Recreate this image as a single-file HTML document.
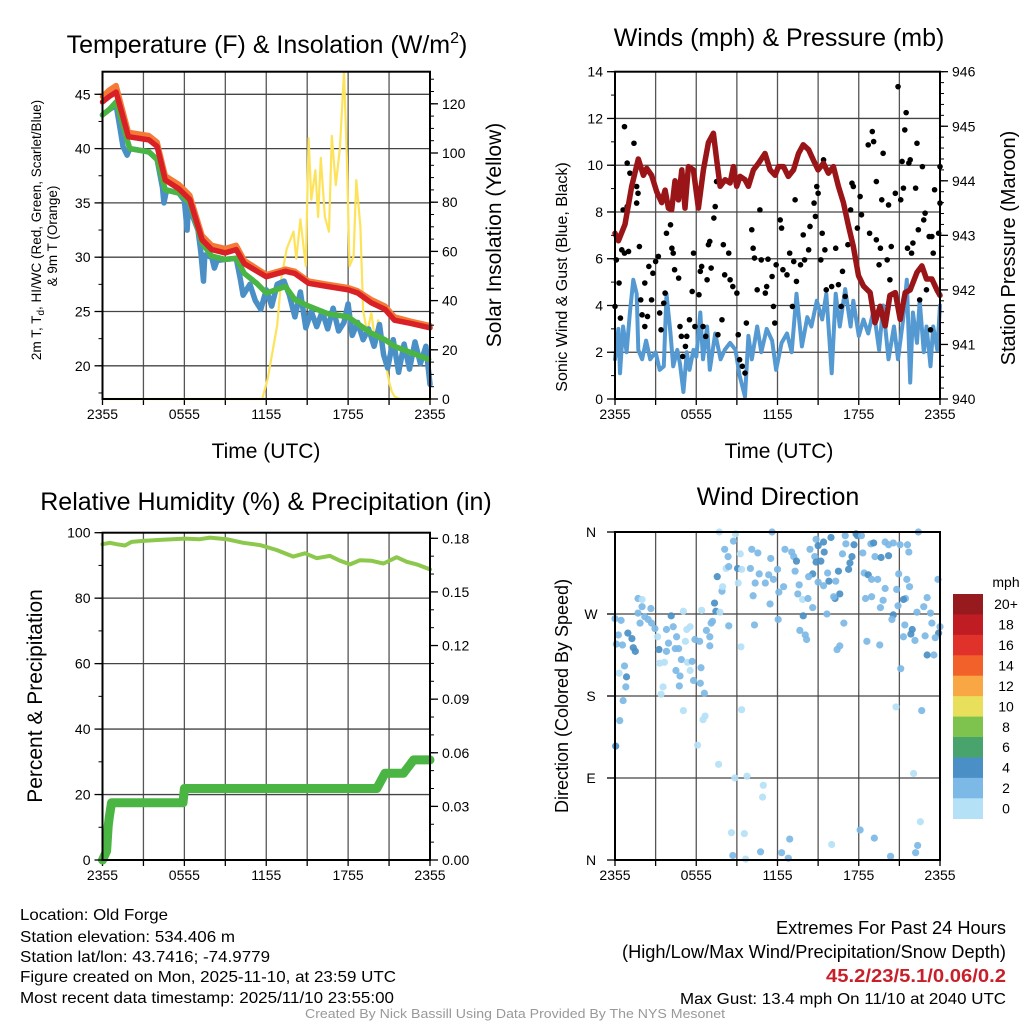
<!DOCTYPE html>
<html><head><meta charset="utf-8"><style>
html,body{margin:0;padding:0;background:#fff;}
svg{display:block;font-family:"Liberation Sans",Arial,sans-serif;}
</style></head><body>
<svg id="chart" xmlns="http://www.w3.org/2000/svg" width="1024" height="1024" viewBox="0 0 1024 1024">
<rect x="0" y="0" width="1024" height="1024" fill="#fff"/>
<g id="layer"></g>
<g font-size="25" text-anchor="middle" fill="#000">
<text x="267" y="53">Temperature (F) &amp; Insolation (W/m<tspan font-size="16" dy="-10">2</tspan><tspan dy="10">)</tspan></text>
<text x="779" y="46">Winds (mph) &amp; Pressure (mb)</text>
<text x="266" y="510">Relative Humidity (%) &amp; Precipitation (in)</text>
<text x="778" y="505">Wind Direction</text>
</g>
<g fill="#000" text-anchor="middle">
<text x="266" y="458" font-size="21">Time (UTC)</text>
<text x="779" y="458" font-size="21">Time (UTC)</text>
<text transform="translate(41,230) rotate(-90)" font-size="13.5">2m T, T<tspan font-size="10" dy="3">d</tspan><tspan dy="-3">, HI/WC (Red, Green, Scarlet/Blue)</tspan></text>
<text transform="translate(57,236) rotate(-90)" font-size="13.5">&amp; 9m T (Orange)</text>
<text transform="translate(501,235) rotate(-90)" font-size="21">Solar Insolation (Yellow)</text>
<text transform="translate(567,277) rotate(-90)" font-size="16">Sonic Wind &amp; Gust (Blue, Black)</text>
<text transform="translate(1015,248) rotate(-90)" font-size="20">Station Pressure (Maroon)</text>
<text transform="translate(42,696) rotate(-90)" font-size="21">Percent &amp; Precipitation</text>
<text transform="translate(568,696) rotate(-90)" font-size="18">Direction (Colored By Speed)</text>
</g>
<g font-size="16" fill="#000" lengthAdjust="spacingAndGlyphs">
<text x="20" y="920" textLength="148" lengthAdjust="spacingAndGlyphs">Location: Old Forge</text>
<text x="20" y="942" textLength="215" lengthAdjust="spacingAndGlyphs">Station elevation: 534.406 m</text>
<text x="20" y="962" textLength="250" lengthAdjust="spacingAndGlyphs">Station lat/lon: 43.7416; -74.9779</text>
<text x="20" y="982" textLength="376" lengthAdjust="spacingAndGlyphs">Figure created on Mon, 2025-11-10, at 23:59 UTC</text>
<text x="20" y="1003" textLength="374" lengthAdjust="spacingAndGlyphs">Most recent data timestamp: 2025/11/10 23:55:00</text>
</g>
<g text-anchor="end" fill="#000">
<text x="1006" y="934" font-size="18" textLength="230" lengthAdjust="spacingAndGlyphs">Extremes For Past 24 Hours</text>
<text x="1006" y="958" font-size="18" textLength="384" lengthAdjust="spacingAndGlyphs">(High/Low/Max Wind/Precipitation/Snow Depth)</text>
<text x="1006" y="982" font-size="18" font-weight="bold" fill="#c8202a" textLength="180" lengthAdjust="spacingAndGlyphs">45.2/23/5.1/0.06/0.2</text>
<text x="1006" y="1004" font-size="16" textLength="326" lengthAdjust="spacingAndGlyphs">Max Gust: 13.4 mph On 11/10 at 2040 UTC</text>
</g>
<text x="305" y="1018" font-size="13" fill="#999" textLength="420" lengthAdjust="spacingAndGlyphs">Created By Nick Bassill Using Data Provided By The NYS Mesonet</text>
</svg>
<script>
// ---------- data ----------
const timeTickLabels = ["2355","0555","1155","1755","2355"];
const tempTicks = [20,25,30,35,40,45];
const solarTicks = [0,20,40,60,80,100,120];
const windTicks = [0,2,4,6,8,10,12,14];
const pressTicks = [940,941,942,943,944,945,946];
const rhTicks = [0,20,40,60,80,100];
const precipTicks = ["0.00","0.03","0.06","0.09","0.12","0.15","0.18"];
const dirLabels = ["N","E","S","W","N"];
const speedBins = ["0","2","4","6","8","10","12","14","16","18","20+"];
const speedColors = ["#b5e1f7","#7cb9e6","#4a90c6","#48a46c","#7ec34d","#e8e05a","#f9a744","#f26129","#e0322a","#bf1d23","#961a1e"];

const redTimes = [0,0.5,1,1.9,3.4,4,4.6,5.6,6.4,7.3,8,9,9.8,10.4,12,13.4,14.1,15.1,16.5,18,18.7,19.7,20.7,21.4,22.6,24];
const redTemps = [44.3,44.8,45.2,41.1,40.8,40.2,37.1,36.3,35.3,31.6,30.7,30.4,30.7,29.4,28.2,28.7,28.5,27.6,27.3,27.0,26.7,25.8,25.2,24.2,23.9,23.5];
const orangeTemps = [44.8,45.4,45.8,41.5,41.2,40.6,37.5,36.7,35.7,32.0,31.1,30.8,31.1,29.7,28.4,28.9,28.7,27.8,27.5,27.2,26.9,26.1,25.5,24.5,24.1,23.7];
const greenTimes = [0,0.5,1,2,3.4,4,4.6,5.6,6.4,7.3,8,9,9.8,10.4,11.3,12,12.7,13.4,14.1,15.1,16.5,18,19.7,20.7,21.4,23.9];
const greenTemps = [43.1,43.6,44.3,40.0,39.7,39.0,36.2,35.9,35.0,31.3,30.1,29.8,29.9,28.5,27.6,26.7,27.0,27.3,26.1,25.5,24.8,24.5,23.0,22.4,21.8,20.6];
const blueTimes = [0,0.5,1,1.2,1.5,1.8,2,3.4,4,4.4,4.5,4.7,5.6,6.0,6.2,6.3,7.0,7.2,7.4,7.5,8,8.2,8.4,9,9.8,10.1,10.3,10.8,11.2,11.6,12,12.4,12.8,13.3,13.7,14.1,14.5,14.9,15.3,15.7,16.1,16.5,16.9,17.3,17.7,18.0,18.3,18.7,19.1,19.5,19.9,20.3,20.6,20.9,21.3,21.7,22.1,22.5,22.9,23.3,23.7,24];
const blueTemps = [43.1,43.6,44.0,42.5,40.2,39.4,40.0,39.7,39.0,36.4,35.0,36.2,35.9,35.2,32.5,34.8,32.5,30.5,27.8,30.2,30.0,29.0,29.7,29.8,29.9,28.0,26.5,27.5,26.0,25.2,27.0,25.5,27.5,27.8,26.5,24.5,26.8,23.5,25.0,23.6,25.0,23.4,25.3,23.2,24.0,25.7,22.8,24.0,22.4,23.4,21.8,23.8,21.0,19.8,22.4,19.4,22.0,19.7,22.2,20.2,21.8,18.3];
const solarTimes = [0,11.7,12.1,12.8,13.1,13.5,14.0,14.2,14.5,14.9,15.1,15.3,15.6,15.8,16.0,16.3,16.6,16.8,17.1,17.4,17.7,17.9,18.1,18.4,18.6,18.9,19.1,19.4,19.7,20.0,20.2,20.5,20.7,21.0,21.2,21.4,21.8,24];
const solarValues = [0,0,8,30,49,61,68,57,73,54,106,81,93,74,98,74,68,107,87,102,133,99,54,58,89,70,36,27,35,23,32,19,16,7,3,1,0,0];

const windTimes = [0,0.25,0.37,0.6,0.86,1.1,1.35,1.6,1.72,2.0,2.3,2.6,3.0,3.3,3.6,3.8,4.1,4.3,4.6,4.8,5.05,5.3,5.5,5.8,6.0,6.3,6.5,6.8,7.0,7.4,7.8,8.1,8.5,8.9,9.2,9.6,9.85,10.1,10.5,10.8,11.2,11.6,11.9,12.3,12.7,13.05,13.4,13.8,14.2,14.5,14.9,15.3,15.6,16.0,16.3,16.6,17.0,17.4,17.6,18.0,18.35,18.7,19.1,19.5,19.8,20.2,20.6,20.9,21.3,21.55,21.8,22.0,22.3,22.5,22.8,23.0,23.3,23.5,23.8,24];
const windSpeeds = [1.7,3.0,1.1,3.1,2.0,3.7,5.1,4.5,2.1,1.7,2.5,1.7,2.0,1.25,1.4,4.5,2.8,1.4,2.1,1.5,0.3,2.0,1.25,2.1,1.8,3.7,1.7,3.1,1.25,2.8,1.7,2.1,2.4,2.1,1.0,0.1,2.7,1.7,3.1,2.0,3.0,2.5,1.25,2.4,2.8,2.0,4.5,2.25,3.5,3.1,4.2,3.4,4.5,1.1,4.5,3.1,4.7,3.1,4.2,2.7,3.4,2.8,3.8,2.1,4.0,1.7,3.1,1.7,3.5,5.1,0.7,3.7,2.4,4.2,2.0,3.1,1.4,3.1,2.1,4.0];
const gustTimes = [0,0.1,0.3,0.4,0.5,0.6,0.7,0.9,1.0,0.7,0.9,1.1,1.4,1.6,1.7,1.6,1.8,1.9,2.0,2.2,2.2,2.4,2.5,2.7,2.8,3.0,3.2,3.3,3.4,3.6,3.7,3.8,4.1,4.2,4.3,4.4,4.7,4.8,4.9,5.0,5.2,5.3,5.5,5.7,5.8,5.9,6.2,6.3,6.4,6.5,6.7,6.8,6.9,7.0,7.1,7.3,7.4,7.5,7.6,7.9,8.0,8.1,8.4,8.5,8.7,9.0,9.1,9.2,9.4,9.6,9.7,10.1,10.2,10.3,10.5,10.7,10.8,11.1,11.2,11.3,11.6,11.7,11.8,11.9,12.2,12.3,12.4,12.7,12.9,13.1,13.2,13.3,13.4,13.7,13.9,14.0,14.3,14.4,14.7,14.8,14.9,15.0,15.2,15.3,15.4,15.5,15.6,16.0,16.3,16.5,16.7,16.8,17.0,17.2,17.4,17.5,17.6,17.9,18.1,18.2,18.7,18.8,19.0,19.1,19.3,19.3,19.5,19.6,19.7,19.8,20.1,20.2,20.3,20.4,20.7,20.9,21.1,21.2,21.3,21.4,21.5,21.6,21.7,21.8,21.9,22.0,22.2,22.3,22.4,22.5,22.7,22.8,22.9,23.0,23.2,23.3,23.4,23.5,23.6,23.9,24.0,24.0];
const gustSpeeds = [3.96,5.95,4.96,3.46,6.38,8.09,6.24,8.23,6.31,11.65,10.09,9.66,10.94,9.09,8.8,8.38,6.52,4.24,3.6,3.1,4.96,3.53,5.67,4.24,5.38,5.88,6.1,3.68,2.96,4.1,4.53,7.09,7.45,6.45,6.24,5.53,5.17,3.1,2.68,1.82,2.25,2.68,3.39,4.6,6.24,3.1,4.46,5.46,5.67,3.1,2.68,5.1,6.6,6.74,5.6,7.74,8.23,9.3,2.75,3.39,6.6,5.31,6.24,5.1,4.81,4.53,2.75,1.68,1.4,1.11,3.25,7.24,6.45,6.03,4.67,8.09,5.95,4.53,4.81,5.98,5.24,3.96,3.25,5.74,7.66,7.31,5.53,5.31,6.24,3.96,5.88,8.52,5.03,5.74,7.02,5.95,6.38,7.38,8.38,7.81,9.09,8.8,5.95,7.09,10.23,6.38,4.67,4.81,6.45,4.89,3.96,5.46,4.39,6.6,8.09,9.23,9.09,7.31,8.66,7.88,10.87,7.09,11.44,11.01,9.3,6.81,5.74,6.45,8.52,10.51,5.95,8.3,5.1,6.52,8.8,13.36,8.52,10.16,9.02,11.51,12.25,6.45,10.09,10.23,6.24,6.67,9.02,10.94,7.24,4.24,9.94,7.66,7.95,4.67,6.95,2.96,6.95,6.24,8.95,7.09,9.94,8.38];
const pressTimes = [0,0.25,0.74,1.23,1.72,2.1,2.34,2.7,3.08,3.45,3.7,3.94,4.19,4.43,4.68,4.93,5.17,5.42,5.79,6.16,6.53,6.9,7.27,7.51,7.76,8.13,8.5,8.74,8.99,9.24,9.6,9.85,10.22,10.6,11.08,11.45,11.82,12.07,12.44,12.8,13.18,13.55,13.9,14.3,14.65,15.0,15.4,15.76,16.13,16.5,16.87,17.24,17.6,17.98,18.35,18.84,19.2,19.58,19.95,20.3,20.7,21.06,21.43,21.8,22.3,22.66,23.0,23.4,23.77,24];
const pressValues = [943.04,942.9,943.2,943.9,944.4,944.1,944.23,944.1,943.8,943.6,943.83,943.5,943.47,944.0,943.65,944.2,943.5,944.26,944.2,943.5,944.2,944.7,944.87,944.38,943.9,944.02,943.96,944.26,943.9,944.08,944.02,943.9,944.2,944.32,944.5,944.2,944.1,944.26,944.26,944.08,944.2,944.5,944.66,944.57,944.38,944.2,944.32,944.14,944.26,943.9,943.6,943.17,942.8,942.26,942.07,941.95,941.4,941.7,941.34,941.9,941.95,941.46,941.95,942.0,942.32,942.44,942.2,942.2,942.0,941.9];

const rhTimes = [0,0.54,1.03,1.64,2.13,2.98,4.2,6.04,7.14,7.87,9.1,10.32,11.54,12.76,13.98,14.84,15.7,16.67,17.41,18.14,18.88,19.73,20.59,21.56,22.3,23.03,24];
const rhValues = [96.5,96.9,96.5,96.1,97.2,97.5,97.8,98.2,98.0,98.5,98.0,96.9,96.2,94.7,92.7,93.7,92.2,92.9,91.4,90.3,91.6,91.4,90.6,92.5,91.1,90.3,88.8];
const precipTimes = [0,0.3,0.42,0.5,0.66,5.9,6.0,20.1,20.7,22.05,22.5,22.8,24];
const precipValues = [0,0.005,0.019,0.024,0.032,0.032,0.040,0.040,0.0485,0.0485,0.053,0.056,0.056];

const dirTimes = [0.0,0.45,0.25,0.1,0.55,0.95,1.25,1.35,1.5,0.3,0.7,0.85,0.8,0.6,0.35,0.05,1.7,2.0,2.0,1.7,2.2,2.65,1.85,2.45,2.7,2.95,3.15,3.25,3.3,3.65,3.55,3.4,3.8,3.95,4.15,4.3,3.8,4.55,4.45,4.7,4.9,5.3,5.55,5.2,5.05,4.75,4.8,4.5,5.35,5.7,5.55,5.9,6.25,6.35,5.8,6.3,6.6,5.05,6.5,6.65,6.1,6.4,6.75,7.0,7.1,7.2,7.0,7.35,7.45,7.55,7.9,7.95,7.75,8.1,8.35,8.2,8.4,8.75,8.9,7.7,9.05,9.25,9.1,9.35,8.4,9.3,9.35,7.65,8.85,9.75,10.95,10.9,8.6,9.55,8.7,9.65,10.75,12.3,12.8,12.9,16.0,18.1,19.15,20.35,22.35,22.2,22.55,22.05,20.75,22.65,21.1,11.6,10.1,10.55,11.5,10.0,10.65,11.35,10.35,11.1,11.7,12.0,12.55,13.05,13.2,13.4,12.45,12.1,11.45,10.2,12.05,10.3,13.3,13.6,13.5,13.85,14.25,14.4,14.75,14.85,15.0,15.4,15.45,15.95,15.2,14.85,14.6,14.3,15.0,15.4,15.7,15.8,16.3,16.5,16.25,16.6,16.15,17.0,17.05,17.65,17.8,17.9,18.2,17.5,17.35,17.25,16.8,18.3,18.4,18.7,18.95,19.4,18.9,19.1,19.2,19.65,20.2,19.95,20.2,20.55,21.05,21.6,21.7,20.95,21.55,21.75,20.8,19.95,18.5,18.95,19.8,19.6,20.55,20.45,21.45,21.3,20.9,22.3,22.8,23.05,23.3,23.4,23.85,24.0,23.9,23.65,22.9,21.85,21.95,21.3,22.15,21.4,23.05,23.55,18.6,19.55,16.4,16.6,16.9,15.65,14.6,13.9,13.65,14.05,14.15,22.4];
const dirValues = [265,263,247,237,236,249,243,233,229,205,213,201,190,175,153,125,287,286,278,271,267,276,260,264,260,254,245,231,216,217,190,182,229,238,268,256,253,245,232,232,220,253,256,240,273,191,202,208,217,218,208,242,240,211,197,194,183,164,154,158,126,274,252,245,260,262,235,282,273,311,295,300,272,341,333,320,322,350,358,360,320,336,304,319,257,234,165,105,90,92,82,69,30,29,5,1,9,8,2,23,17,33,24,4,16,8,42,95,168,164,210,360,341,337,331,320,314,313,304,304,308,319,341,338,333,328,300,294,281,290,264,258,317,302,292,286,287,341,333,352,345,349,338,354,328,327,314,311,305,301,315,306,306,317,287,292,289,356,347,346,358,356,356,333,326,319,336,337,315,313,308,308,347,348,333,332,334,349,346,348,346,346,338,314,308,300,297,298,287,289,285,277,269,264,287,286,279,272,278,288,271,260,308,256,249,244,246,248,253,245,241,258,225,225,240,236,231,235,260,270,277,268,252,247,242,360];
const dirSpeeds = [3,3,3,3,3,5,5,5,5,1,3,5,3,3,3,5,3,1,3,3,3,3,3,3,3,3,1,5,1,1,1,1,3,3,5,3,3,3,3,3,3,1,1,1,1,3,3,3,1,3,1,3,3,3,3,3,3,1,1,1,1,1,3,3,3,3,3,5,5,5,3,1,1,3,3,1,3,3,1,1,5,1,1,1,3,1,1,1,1,1,1,1,1,1,3,1,3,3,3,3,1,3,3,3,3,3,1,1,1,3,3,3,3,3,3,3,3,3,3,3,3,3,3,3,3,5,3,3,3,3,3,3,3,3,3,1,3,3,3,3,5,5,5,5,5,5,5,3,3,3,3,5,3,5,5,5,3,3,3,5,5,5,3,5,5,5,3,3,3,5,3,3,3,5,3,5,5,3,3,3,3,3,3,3,3,3,3,3,3,3,3,3,5,3,3,5,3,3,3,3,3,3,3,3,5,3,3,5,5,3,3,3,5,3,3,3,3,3,3,3,3,5,3,3,3,3,3];

// ---------- helpers ----------
const NS = "http://www.w3.org/2000/svg";
const layer = document.getElementById("layer");
function mk(tag, attrs, parent){ const e=document.createElementNS(NS,tag); for(const k in attrs) e.setAttribute(k,attrs[k]); (parent||layer).appendChild(e); return e; }
function lin(d0,d1,r0,r1){ return v => r0 + (v-d0)/(d1-d0)*(r1-r0); }
function pathD(xs,ys,xf,yf){ return xs.map((t,i)=>(i?"L":"M")+xf(t).toFixed(1)+","+yf(ys[i]).toFixed(1)).join(""); }

function frame(P, name){
  const g = mk("g",{});
  
  
  for(let h=3; h<24; h+=3){
    const x = P.x(h);
    const l = mk("line",{x1:x,x2:x,y1:P.y0,y2:P.y1,stroke:"#555","stroke-width":1.3},g);
    
    
  }
  for(let h=0; h<=24; h+=3){
    const x = P.x(h);
    const t = mk("line",{x1:x,x2:x,y1:P.y1,y2:P.y1+6,stroke:"#000","stroke-width":1.3},g);
    
    
  }
  timeTickLabels.forEach((lab,i)=>{
    const t = mk("text",{x:P.x(i*6),y:P.y1+20,"font-size":14,"text-anchor":"middle"},g);
    t.textContent = lab;
    
    
  });
  return g;
}
function hgrid(P, vals, yf, name){
  vals.forEach(v=>{
    const y=yf(v);
    if(Math.abs(y-P.y0)<1||Math.abs(y-P.y1)<1) return;
    const l = mk("line",{x1:P.x0,x2:P.x1,y1:y,y2:y,stroke:"#444","stroke-width":1.3});
    
    
  });
}
function yaxis(P, vals, labels, yf, side, minorStep, d0, d1, name){
  const g = mk("g",{});
  
  
  const xa = side==="left"?P.x0:P.x1, dir = side==="left"?-1:1;
  if(minorStep){
    for(let v=d0; v<=d1+1e-9; v+=minorStep){
      const y=yf(v);
      const m = mk("line",{x1:xa,x2:xa+dir*4,y1:y,y2:y,stroke:"#000","stroke-width":1},g);
      
      
    }
  }
  vals.forEach((v,i)=>{
    const y=yf(v);
    const t = mk("line",{x1:xa,x2:xa+dir*8,y1:y,y2:y,stroke:"#000","stroke-width":1.3},g);
    
    
    const tx = mk("text",{x:xa+dir*12,y:y+5,"font-size":14,"text-anchor":side==="left"?"end":"start"},g);
    tx.textContent = labels[i];
    
    
  });
}
function border(P,name){
  const r = mk("rect",{x:P.x0,y:P.y0,width:P.x1-P.x0,height:P.y1-P.y0,fill:"none",stroke:"#000","stroke-width":2});
  
  
}
function line(xs,ys,xf,yf,color,w,name){
  const p = mk("path",{d:pathD(xs,ys,xf,yf),fill:"none",stroke:color,"stroke-width":w,"stroke-linejoin":"round","stroke-linecap":"round"});
  
  
  return p;
}

// ---------- panel 1 ----------
const P1 = {x0:102.5,x1:430,y0:71.7,y1:399};
P1.x = lin(0,24,P1.x0,P1.x1);
const yT = lin(45,20,94.3,365.8);
const yS = lin(0,120,399,103.8);
frame(P1,"temperature");
hgrid(P1,tempTicks,yT,"temperature");
line(solarTimes,solarValues,P1.x,yS,"#fde35a",2.2,"solar-insolation-line");
line(blueTimes,blueTemps,P1.x,yT,"#4a90c6",5.5,"wind-chill-line");
line(greenTimes,greenTemps,P1.x,yT,"#4bb544",5.5,"dewpoint-line");
line(redTimes,orangeTemps,P1.x,yT,"#f47a36",5.5,"9m-temperature-line");
line(redTimes,redTemps,P1.x,yT,"#d92026",5.5,"2m-temperature-line");
border(P1,"temperature");
yaxis(P1,tempTicks,tempTicks,yT,"left",2.5,17.5,45,"temperature-y-axis");
yaxis(P1,solarTicks,solarTicks,yS,"right",5,0,130,"solar-y-axis");

// ---------- panel 2 ----------
const P2 = {x0:615,x1:940,y0:71.7,y1:399};
P2.x = lin(0,24,P2.x0,P2.x1);
const yW = lin(0,14,399,71.7);
const yP = lin(940,946,399,71.7);
frame(P2,"winds");
hgrid(P2,windTicks,yW,"winds");
line(windTimes,windSpeeds,P2.x,yW,"#5499d1",4,"sonic-wind-line");
gustTimes.forEach((t,i)=>{
  const c = mk("circle",{cx:P2.x(t),cy:yW(gustSpeeds[i]),r:2.8,fill:"#000"});
  
  
});
line(pressTimes,pressValues,P2.x,yP,"#9a1518",5.5,"pressure-line");
border(P2,"winds");
yaxis(P2,windTicks,windTicks,yW,"left",1,0,14,"wind-y-axis");
yaxis(P2,pressTicks,pressTicks,yP,"right",0.2,940,946,"pressure-y-axis");

// ---------- panel 3 ----------
const P3 = {x0:102.5,x1:430,y0:532.7,y1:860};
P3.x = lin(0,24,P3.x0,P3.x1);
const yR = lin(0,100,860,532.7);
const yPr = lin(0,0.18,860,538.3);
frame(P3,"humidity");
hgrid(P3,rhTicks,yR,"humidity");
line(rhTimes,rhValues,P3.x,yR,"#8cc84b",4,"relative-humidity-line");
line(precipTimes,precipValues,P3.x,yPr,"#4bb544",9,"precipitation-line");
border(P3,"humidity");
yaxis(P3,rhTicks,rhTicks,yR,"left",10,0,100,"humidity-y-axis");
yaxis(P3,precipTicks.map(Number),precipTicks,yPr,"right",0.01,0,0.18,"precipitation-y-axis");

// ---------- panel 4 ----------
const P4 = {x0:615,x1:940,y0:532,y1:860};
P4.x = lin(0,24,P4.x0,P4.x1);
const yD = lin(0,360,860,532);
frame(P4,"direction");
hgrid(P4,[0,90,180,270,360],yD,"direction");
dirTimes.forEach((t,i)=>{
  const idx = Math.min(10,Math.floor(dirSpeeds[i]/2));
  const c = mk("circle",{cx:P4.x(t),cy:yD(dirValues[i]),r:3.6,fill:speedColors[idx],"fill-opacity":0.92});
  
  
});
border(P4,"direction");
dirLabels.forEach((lab,i)=>{
  const y = yD(i*90);
  const t = mk("line",{x1:P4.x0,x2:P4.x0-8,y1:y,y2:y,stroke:"#000","stroke-width":1.3});
  
  
  const tx = mk("text",{x:591,y:y+5,"font-size":14,"text-anchor":"middle"});
  tx.textContent = lab;
  
  
});

// colorbar
const cbTop = 594, cbH = 20.43;
const cbt = mk("text",{x:1006,y:587,"font-size":14,"text-anchor":"middle"});
cbt.textContent = "mph";


speedBins.forEach((lab,i)=>{
  const k = speedBins.length-1-i;
  const y = cbTop + i*cbH;
  const r = mk("rect",{x:953,y:y,width:30,height:cbH+0.3,fill:speedColors[k]});
  
  
  const t = mk("text",{x:1006,y:y+cbH/2+5,"font-size":14,"text-anchor":"middle"});
  t.textContent = speedBins[k];
  
  
});
</script>
</body></html>
